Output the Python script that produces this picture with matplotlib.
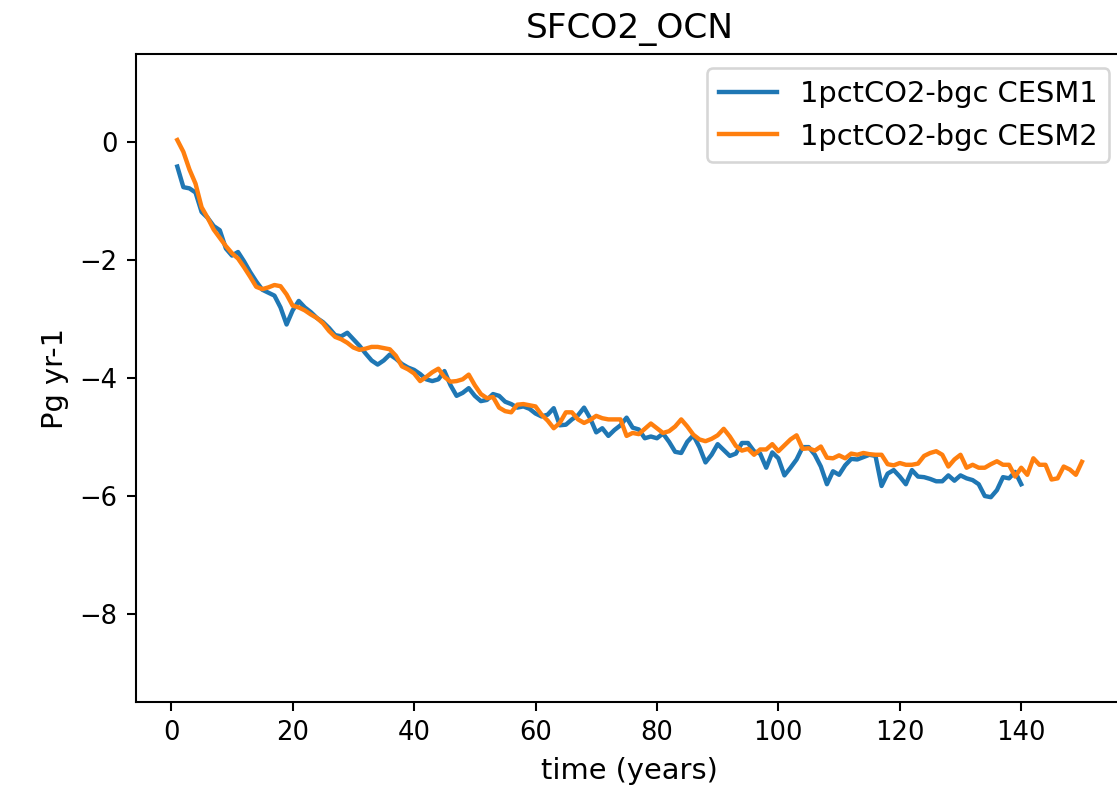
import matplotlib
matplotlib.use("Agg")
import matplotlib.pyplot as plt

# annual mean ocean CO2 flux (Pg yr-1)
years_cesm1 = list(range(1, 141))
years_cesm2 = list(range(1, 151))

sfco2_cesm1 = [
    -0.41, -0.76, -0.78, -0.85, -1.18, -1.28, -1.42, -1.49, -1.80, -1.92,
    -1.86, -2.02, -2.20, -2.36, -2.50, -2.55, -2.60, -2.80, -3.09, -2.85,
    -2.69, -2.80, -2.88, -2.98, -3.05, -3.15, -3.27, -3.29, -3.23, -3.34,
    -3.45, -3.58, -3.70, -3.77, -3.70, -3.60, -3.67, -3.76, -3.82, -3.86,
    -3.93, -4.02, -4.05, -4.02, -3.88, -4.12, -4.30, -4.25, -4.17, -4.30,
    -4.39, -4.37, -4.27, -4.30, -4.40, -4.44, -4.50, -4.48, -4.52, -4.60,
    -4.65, -4.62, -4.51, -4.80, -4.79, -4.70, -4.63, -4.50, -4.68, -4.92,
    -4.85, -4.98, -4.88, -4.80, -4.67, -4.84, -4.87, -5.02, -4.99, -5.02,
    -4.94, -5.08, -5.25, -5.27, -5.08, -4.97, -5.17, -5.43, -5.30, -5.12,
    -5.22, -5.32, -5.28, -5.10, -5.10, -5.24, -5.28, -5.52, -5.26, -5.36,
    -5.65, -5.52, -5.38, -5.17, -5.17, -5.30, -5.50, -5.80, -5.58, -5.64,
    -5.48, -5.37, -5.38, -5.34, -5.30, -5.32, -5.83, -5.62, -5.56, -5.67,
    -5.80, -5.56, -5.67, -5.68, -5.71, -5.75, -5.75, -5.65, -5.74, -5.65,
    -5.70, -5.73, -5.80, -6.00, -6.02, -5.90, -5.68, -5.70, -5.59, -5.80,
]

sfco2_cesm2 = [
    0.04, -0.16, -0.46, -0.70, -1.10, -1.28, -1.48, -1.62, -1.76, -1.88,
    -1.97, -2.12, -2.28, -2.45, -2.49, -2.46, -2.42, -2.44, -2.58, -2.77,
    -2.80, -2.85, -2.92, -2.98, -3.07, -3.20, -3.30, -3.34, -3.40, -3.48,
    -3.52, -3.50, -3.47, -3.47, -3.49, -3.51, -3.62, -3.80, -3.85, -3.92,
    -4.05, -3.98, -3.90, -3.84, -3.98, -4.06, -4.05, -4.02, -3.94, -4.12,
    -4.27, -4.34, -4.32, -4.50, -4.56, -4.58, -4.45, -4.44, -4.46, -4.48,
    -4.62, -4.72, -4.85, -4.76, -4.58, -4.58, -4.70, -4.76, -4.71, -4.64,
    -4.68, -4.70, -4.70, -4.70, -4.98, -4.93, -4.95, -4.86, -4.77, -4.85,
    -4.93, -4.90, -4.82, -4.70, -4.82, -4.96, -5.04, -5.07, -5.03, -4.97,
    -4.86, -4.99, -5.15, -5.23, -5.20, -5.30, -5.21, -5.21, -5.12, -5.24,
    -5.14, -5.04, -4.97, -5.20, -5.19, -5.23, -5.16, -5.35, -5.36, -5.31,
    -5.36, -5.28, -5.30, -5.27, -5.29, -5.30, -5.30, -5.46, -5.48, -5.44,
    -5.47, -5.47, -5.45, -5.32, -5.27, -5.24, -5.30, -5.50, -5.38, -5.30,
    -5.52, -5.47, -5.52, -5.52, -5.46, -5.41, -5.47, -5.47, -5.67, -5.52,
    -5.64, -5.36, -5.47, -5.47, -5.72, -5.70, -5.50, -5.55, -5.64, -5.42,
]

dpi = 186.17
fig = plt.figure(figsize=(1117 / dpi, 795 / dpi), dpi=dpi)
# the original picture is cut off on the right, so the axes run past the edge
ax = fig.add_axes([0.1215, 0.1166, 0.8846, 0.8155])

ax.plot(years_cesm1, sfco2_cesm1, lw=1.7, label="1pctCO2-bgc CESM1")
ax.plot(years_cesm2, sfco2_cesm2, lw=1.7, label="1pctCO2-bgc CESM2")

ax.set_xlim(-5.85, 156.9)
ax.set_ylim(-9.5, 1.5)
ax.set_xticks([0, 20, 40, 60, 80, 100, 120, 140])
ax.set_yticks([0, -2, -4, -6, -8])
ax.set_title("SFCO2_OCN", fontsize=13.3)
ax.set_xlabel("time (years)", fontsize=11.2)
ax.set_ylabel("Pg yr-1", fontsize=11.2)
ax.legend(loc="upper right", fontsize=11.2)

fig.savefig("out.png", dpi=dpi)
